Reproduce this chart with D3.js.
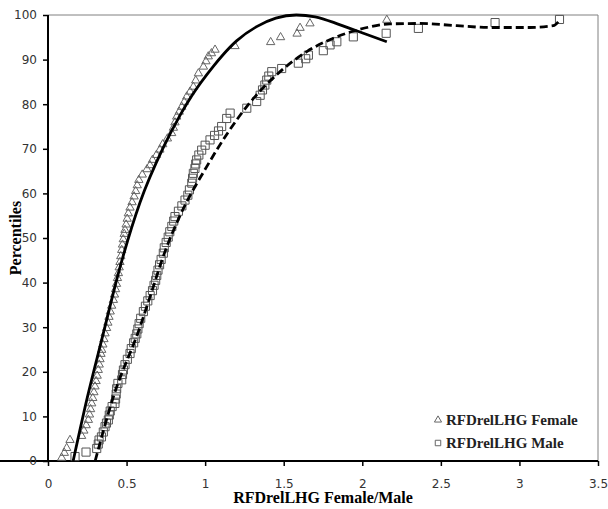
<!DOCTYPE html>
<html><head><meta charset="utf-8">
<script src="https://cdn.jsdelivr.net/npm/d3@7"></script>
<style>body{margin:0;background:#fff}</style>
</head><body>
<script>
// ---- data ----
const femaleX = [0.087,0.104,0.119,0.140,0.214,0.228,0.243,0.257,0.264,0.271,0.278,0.285,0.292,0.299,0.306,0.313,0.320,0.326,0.331,0.337,0.342,0.349,0.356,0.363,0.373,0.381,0.388,0.396,0.405,0.416,0.423,0.430,0.436,0.442,0.448,0.453,0.458,0.463,0.469,0.474,0.479,0.485,0.490,0.497,0.504,0.511,0.522,0.535,0.548,0.558,0.568,0.578,0.600,0.630,0.649,0.665,0.690,0.712,0.730,0.760,0.787,0.798,0.808,0.819,0.835,0.851,0.867,0.883,0.904,0.925,0.940,0.957,0.989,1.005,1.020,1.040,1.063,1.190,1.417,1.480,1.585,1.604,1.667,2.156];
const femaleY = [0.7,1.8,2.9,4.7,5.6,6.8,8.0,9.2,10.4,11.6,12.9,14.1,15.4,16.7,17.9,19.1,20.4,21.6,22.8,24.0,24.9,26.1,27.3,28.6,29.8,31.0,32.3,33.5,34.8,36.1,37.3,38.5,39.7,41.0,42.1,43.4,44.6,45.9,47.3,48.5,49.7,50.9,51.8,53.0,54.3,55.5,56.8,58.0,59.3,60.5,61.8,63.0,64.2,65.4,66.3,67.5,68.6,69.8,71.0,72.3,73.5,74.7,75.9,77.2,78.3,79.4,80.5,81.7,82.8,83.9,85.3,86.9,88.4,89.6,90.7,91.4,92.2,93.0,93.9,95.0,95.8,97.1,98.1,98.9];
const maleX = [0.172,0.242,0.310,0.320,0.325,0.340,0.352,0.363,0.372,0.384,0.390,0.396,0.408,0.426,0.430,0.434,0.437,0.445,0.469,0.474,0.480,0.490,0.505,0.522,0.530,0.545,0.555,0.565,0.572,0.580,0.590,0.607,0.620,0.635,0.650,0.665,0.675,0.685,0.692,0.700,0.710,0.720,0.734,0.740,0.752,0.765,0.775,0.788,0.800,0.808,0.830,0.852,0.872,0.890,0.900,0.915,0.920,0.925,0.935,0.940,0.946,0.960,0.978,1.000,1.031,1.060,1.085,1.105,1.137,1.159,1.265,1.328,1.350,1.365,1.380,1.392,1.405,1.424,1.487,1.593,1.640,1.657,1.752,1.795,1.838,1.943,2.152,2.357,2.845,3.255];
const maleY = [1.0,2.0,2.8,3.8,4.7,5.4,6.5,7.7,8.5,9.2,10.3,11.2,12.2,12.9,13.9,15.0,16.2,17.4,18.2,19.4,20.4,21.6,22.8,24.1,25.2,26.5,27.5,28.5,29.6,30.8,32.0,33.5,34.7,35.9,37.1,38.2,39.4,40.5,41.6,42.8,44.0,45.2,46.6,47.8,49.0,50.2,51.4,52.6,53.8,54.8,56.0,57.2,58.5,59.6,60.8,62.3,63.4,64.5,65.6,66.6,67.5,68.6,69.7,70.8,72.0,73.0,74.0,75.0,76.8,78.0,79.1,80.6,82.0,83.2,84.3,85.4,86.3,87.3,88.0,89.2,90.2,91.0,92.0,93.3,94.0,95.1,95.9,97.0,98.3,99.0];
// trend curves
const femaleFitX = [0.16,0.25,0.352,0.458,0.586,0.734,0.84,0.915,1.052,1.114,1.2,1.328,1.45,1.58,1.7,1.859,2.007,2.156];
const femaleFitY = [0,14.2,28.6,43.4,58.0,70.3,77.5,81.9,88.5,91.1,94.2,97.4,99.3,100,99.6,97.8,95.9,94.0];
const maleFitX = [0.30,0.416,0.586,0.649,0.745,0.84,1.010,1.148,1.286,1.477,1.647,1.816,1.986,2.177,2.368,2.602,2.813,3.068,3.216,3.25];
const maleFitY = [0,14.4,30.1,36.8,47.0,55.0,66.0,73.8,80.4,87.3,91.8,94.8,96.8,98.0,98.1,97.6,97.2,97.2,97.6,98.6];
const xTicks = [0,0.5,1,1.5,2,2.5,3,3.5];
const yTicks = [0,10,20,30,40,50,60,70,80,90,100];
const seriesNames = ["RFDrelLHG Female","RFDrelLHG Male"];
const xTitle = "RFDrelLHG Female/Male";
const yTitle = "Percentiles";

// ---- drawing ----
const W = 608, H = 509;
const m = {l:48, r:10, t:15, b:48};
const svg = d3.select("body").append("svg").attr("width",W).attr("height",H);
const x = d3.scaleLinear().domain([0,3.5]).range([m.l, W-m.r]);
const y = d3.scaleLinear().domain([0,100]).range([H-m.b, m.t]);

// frame top/right
svg.append("path").attr("d",`M${x(0)},${y(100)}H${x(3.5)}V${y(0)}`)
  .attr("fill","none").attr("stroke","#808080").attr("stroke-width",1);

const tickFont = "'DejaVu Sans', Verdana, sans-serif";
const gx = svg.append("g").attr("transform",`translate(0,${y(0)})`)
  .call(d3.axisBottom(x).tickValues(xTicks).tickSize(5).tickPadding(13).tickFormat(d=>String(d)));
const gy = svg.append("g").attr("transform",`translate(${x(0)},0)`)
  .call(d3.axisLeft(y).tickValues(yTicks).tickSize(5).tickPadding(6).tickFormat(d=>String(d)));
[gx,gy].forEach(g=>{
  g.select(".domain").attr("stroke","#000").attr("stroke-width",2);
  g.selectAll(".tick line").attr("stroke","#000").attr("stroke-width",1.5);
  g.selectAll("text").attr("font-family",tickFont).attr("font-size",12).attr("fill","#333");
});
gy.select(".domain").attr("d",`M0,${y(100)}V${y(0)}`);
gx.select(".domain").attr("d",`M0,0H${x(3.5)}`);

const tri = d3.symbol().type(d3.symbolTriangle).size(30);
const sq = d3.symbol().type(d3.symbolSquare).size(66);
const fem = femaleX.map((v,i)=>[v,femaleY[i]]);
const mal = maleX.map((v,i)=>[v,maleY[i]]);

svg.append("g").selectAll("path").data(fem).join("path")
  .attr("d",tri).attr("transform",d=>`translate(${x(d[0])},${y(d[1])})`)
  .attr("fill","none").attr("stroke","#666").attr("stroke-width",1);
svg.append("g").selectAll("path").data(mal).join("path")
  .attr("d",sq).attr("transform",d=>`translate(${x(d[0])},${y(d[1])})`)
  .attr("fill","none").attr("stroke","#555").attr("stroke-width",1);

const line = d3.line().x(d=>x(d[0])).y(d=>y(d[1])).curve(d3.curveMonotoneX);
svg.append("path").datum(femaleFitX.map((v,i)=>[v,femaleFitY[i]]))
  .attr("d",line).attr("fill","none").attr("stroke","#000").attr("stroke-width",2.8);
svg.append("path").datum(maleFitX.map((v,i)=>[v,maleFitY[i]]))
  .attr("d",line).attr("fill","none").attr("stroke","#000").attr("stroke-width",2.8)
  .attr("stroke-dasharray","8,4");

// titles
const serif = "'Liberation Serif','Times New Roman',serif";
svg.append("text").attr("x",(x(0)+x(3.5))/2).attr("y",503).attr("text-anchor","middle")
  .attr("font-family",serif).attr("font-weight","bold").attr("font-size",16).text(xTitle);
svg.append("text").attr("transform",`translate(21,${(y(0)+y(100))/2}) rotate(-90)`)
  .attr("text-anchor","middle").attr("font-family",serif).attr("font-weight","bold")
  .attr("font-size",16).text(yTitle);

// legend
const lg = svg.append("g");
const legY = [420, 443];
lg.append("path").attr("d",d3.symbol().type(d3.symbolTriangle).size(22))
  .attr("transform",`translate(438,${legY[0]})`).attr("fill","none").attr("stroke","#666");
lg.append("path").attr("d",d3.symbol().type(d3.symbolSquare).size(30))
  .attr("transform",`translate(438,${legY[1]})`).attr("fill","none").attr("stroke","#666");
seriesNames.forEach((n,i)=>{
  lg.append("text").attr("x",446).attr("y",legY[i]).attr("dy","0.35em")
    .attr("font-family",serif).attr("font-weight","bold").attr("font-size",15).attr("fill","#222").text(n);
});
</script>
</body></html>
